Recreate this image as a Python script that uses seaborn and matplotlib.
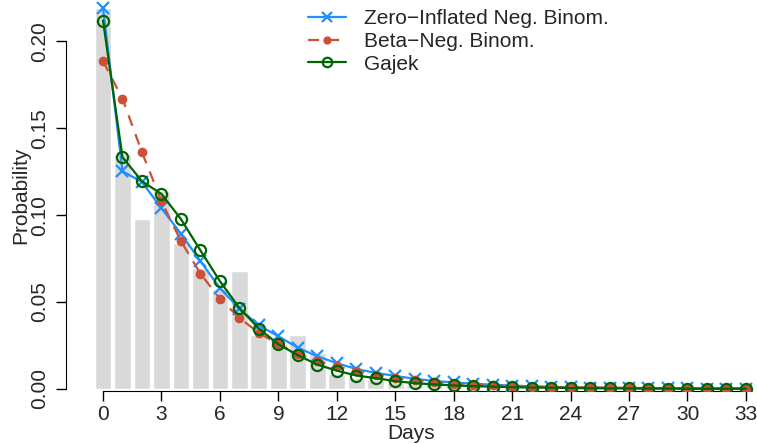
import numpy as np
import pandas as pd
import matplotlib
matplotlib.use("Agg")
import matplotlib.pyplot as plt
import seaborn as sns

sns.set_style("ticks")
plt.rcParams['font.family'] = ['Liberation Sans', 'DejaVu Sans']

days = list(range(34))
observed = [0.219, 0.135, 0.098, 0.114, 0.084, 0.0695, 0.0577, 0.068, 0.031, 0.026,
            0.031, 0.0205, 0.0086, 0.0063, 0.005, 0.004, 0.003, 0.002, 0.0015, 0.0012,
            0.001, 0.0008, 0.0006, 0.0005, 0.0004, 0.0003, 0.0003, 0.0002, 0.0002, 0.0002,
            0.0001, 0.0001, 0.0001, 0.0001]
zinb = [0.2193, 0.1253, 0.119, 0.104, 0.0893, 0.0735, 0.058, 0.0462, 0.0365, 0.0303,
        0.0237, 0.0188, 0.0148, 0.0115, 0.0092, 0.0075, 0.0058, 0.0046, 0.0037, 0.003,
        0.0024, 0.0019, 0.0015, 0.0012, 0.001, 0.0008, 0.0006, 0.0005, 0.0004, 0.0003,
        0.0003, 0.0002, 0.0002, 0.0002]
bnb = [0.1886, 0.167, 0.1362, 0.108, 0.085, 0.0664, 0.0518, 0.0409, 0.0322, 0.0257,
       0.0203, 0.0162, 0.013, 0.0103, 0.0082, 0.0064, 0.0049, 0.0039, 0.0031, 0.0025,
       0.002, 0.0016, 0.0013, 0.0011, 0.0009, 0.0008, 0.0007, 0.0006, 0.0005, 0.0004,
       0.0004, 0.0003, 0.0003, 0.0003]
gajek = [0.212, 0.1333, 0.1195, 0.1122, 0.0977, 0.0797, 0.062, 0.0466, 0.0347, 0.0257,
         0.0194, 0.014, 0.0105, 0.0077, 0.0062, 0.0045, 0.0033, 0.0026, 0.002, 0.0016,
         0.0013, 0.001, 0.0008, 0.0007, 0.0005, 0.0004, 0.0003, 0.0003, 0.0002, 0.0002,
         0.0001, 0.0001, 0.0001, 0.0001]
series_labels = ["Zero\u2212Inflated Neg. Binom.", "Beta\u2212Neg. Binom.", "Gajek"]
xticks = list(range(0, 34, 3))
yticks = [0.0, 0.05, 0.10, 0.15, 0.20]

fig = plt.figure(figsize=(7.57, 4.44), dpi=100)
ax = fig.add_axes([66 / 757, 53 / 444, 691 / 757, 391 / 444])

sns.barplot(x=days, y=observed, native_scale=True, color="#D9D9D9",
            saturation=1, width=0.86, ax=ax, zorder=1)

sns.lineplot(x=days, y=zinb, ax=ax, color="#1E90FF", lw=1.6, marker="x",
             markersize=8, markeredgewidth=1.6, markeredgecolor="#1E90FF",
             label=series_labels[0], zorder=3)
sns.lineplot(x=days, y=bnb, ax=ax, color="#CD4F39", lw=1.6, linestyle=(0, (5, 4)),
             marker="o", markersize=7, markeredgewidth=0, label=series_labels[1], zorder=4)
sns.lineplot(x=days, y=gajek, ax=ax, color="#006400", lw=1.6, marker="o",
             markersize=8, markerfacecolor="none", markeredgecolor="#006400",
             markeredgewidth=1.6, label=series_labels[2], zorder=5)

ax.set_xlim(-1.9, 33.57)
ax.set_ylim(-0.0012, 0.2238)
ax.set_xticks(xticks)
ax.set_xticklabels([str(t) for t in xticks], fontsize=15)
ax.set_yticks(yticks)
ax.set_yticklabels(["%.2f" % t for t in yticks], fontsize=15, rotation=90, va="center")
ax.tick_params(axis="both", length=7, width=1, color="black")
ax.tick_params(axis="y", pad=5)
ax.tick_params(axis="x", pad=3)

for s in ["top", "right"]:
    ax.spines[s].set_visible(False)
ax.spines["left"].set_bounds(0, 0.2)
ax.spines["bottom"].set_bounds(0, 33)
ax.spines["left"].set_color("black")
ax.spines["bottom"].set_color("black")

ax.set_xlabel("Days", fontsize=15, labelpad=0)
ax.set_ylabel("Probability", fontsize=15, labelpad=0)

leg = ax.legend(loc="upper left", bbox_to_anchor=((300 - 66) / 691, 0.998),
                frameon=False, fontsize=15, handlelength=1.8, handletextpad=0.85,
                labelspacing=0.18, borderaxespad=0, markerscale=0.85)

fig.savefig("out.png", dpi=100)
